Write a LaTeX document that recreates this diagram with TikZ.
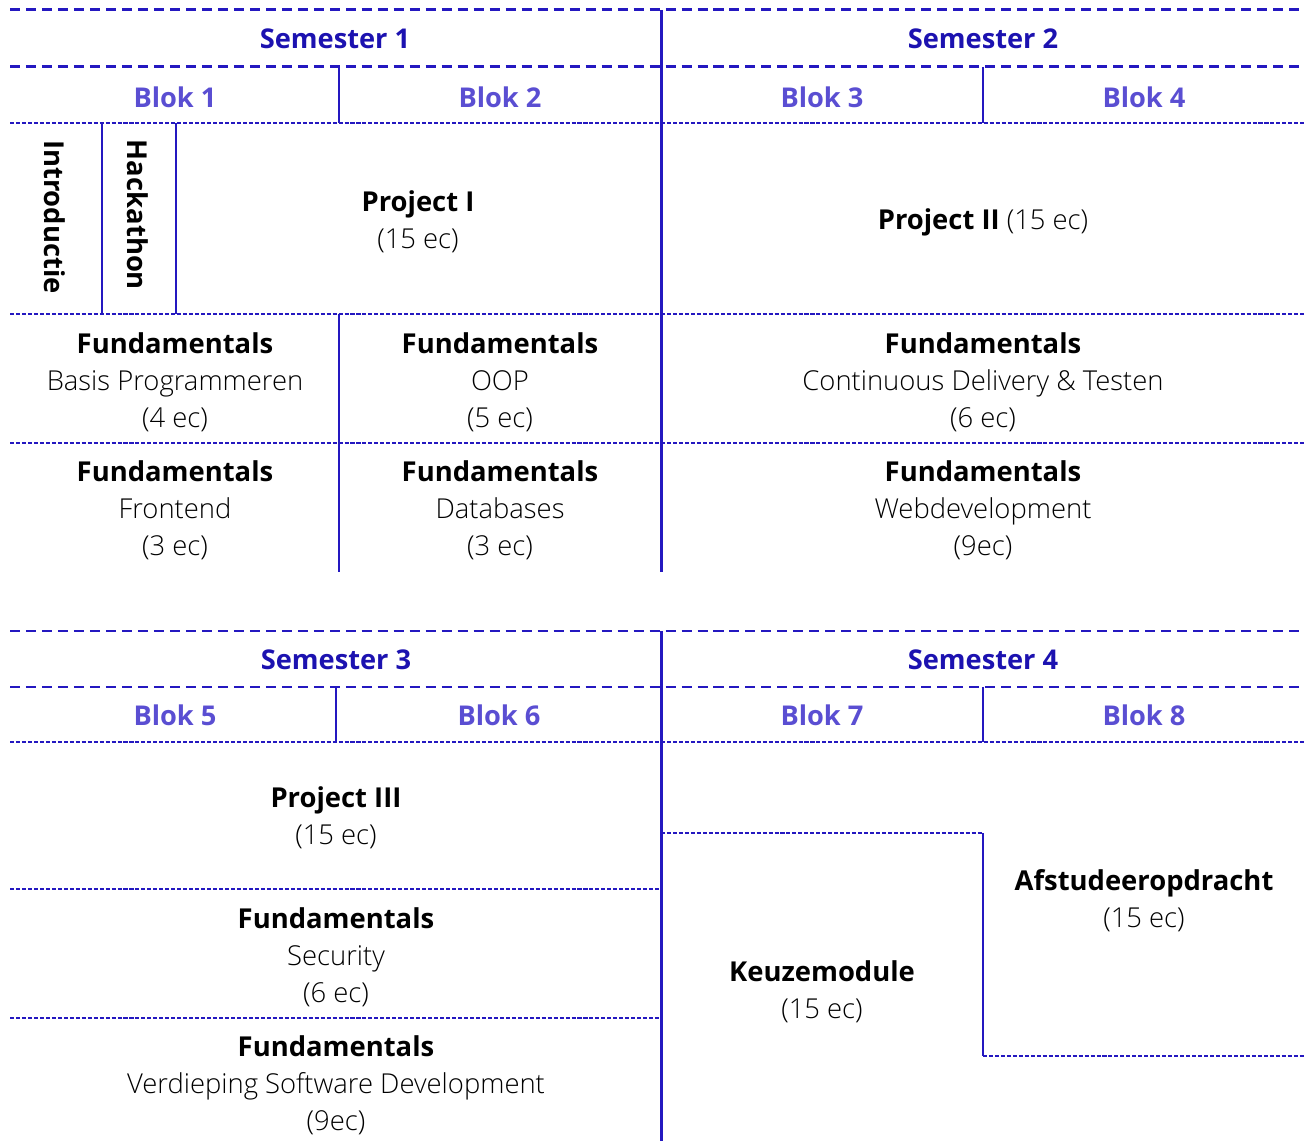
\documentclass[tikz,border=0pt]{standalone}
\usepackage{fontspec}
\setmainfont{Open Sans}
\newfontfamily\lightfont{Open Sans Light}
\definecolor{semblue}{HTML}{1C12B0}
\definecolor{blokblue}{HTML}{5A4ED2}
\definecolor{lineblue}{HTML}{2418C0}
\newcommand{\vaknaam}[1]{{\normalfont\bfseries #1}}
\tikzstyle{semester} = [
  font=\fontsize{15.5}{21}\selectfont\bfseries,
  text=semblue
]
\tikzstyle{blok} = [
  font=\fontsize{15.5}{21}\selectfont\bfseries,
  text=blokblue
]
\tikzstyle{vak} = [
  align=center,
  font=\fontsize{15.6}{21}\selectfont\lightfont
]
\tikzstyle{thickdash} = [draw=lineblue, line width=1.7pt, dash pattern=on 5.7pt off 3.4pt]
\tikzstyle{thindash} = [draw=lineblue, line width=0.85pt, dash pattern=on 2.3pt off 1.1pt]
\tikzstyle{mainline} = [draw=lineblue, line width=1.7pt]
\tikzstyle{subline} = [draw=lineblue, line width=1.1pt]

\begin{document}
\begin{tikzpicture}[x=0.02cm, y=-0.02cm]
    \useasboundingbox (0,0) rectangle (1312,1141);

    % Jaar 1: semesters en blokken
    \draw [thickdash] (10,10) -- (1305,10);
    \draw [thickdash] (10,67) -- (1305,67);
    \draw [thindash] (10,123) -- (1305,123);
    \draw [thindash] (10,314) -- (1305,314);
    \draw [thindash] (10,443) -- (1305,443);
    \draw [mainline] (661,10) -- (661,572);
    \draw [subline] (339,67) -- (339,123);
    \draw [subline] (983,67) -- (983,123);
    \draw [subline] (102,123) -- (102,314);
    \draw [subline] (176,123) -- (176,314);
    \draw [subline] (339,314) -- (339,572);

    \node (sem1) [semester] at (335,39) {Semester 1};
    \node (sem2) [semester] at (983,39) {Semester 2};
    \node (blok1) [blok] at (175,97) {Blok 1};
    \node (blok2) [blok] at (500,97) {Blok 2};
    \node (blok3) [blok] at (822,97) {Blok 3};
    \node (blok4) [blok] at (1144,97) {Blok 4};

    % Jaar 1: onderdelen
    \node (intro) [vak, rotate=-90] at (55,217) {\vaknaam{Introductie}};
    \node (hack) [vak, rotate=-90] at (138,215) {\vaknaam{Hackathon}};
    \node (proj1) [vak] at (418,222) {\vaknaam{Project I}\\(15 ec)};
    \node (proj2) [vak] at (983,222) {\vaknaam{Project II} (15 ec)};
    \node (basis) [vak] at (175,382) {\vaknaam{Fundamentals}\\Basis Programmeren\\(4 ec)};
    \node (oop) [vak] at (500,382) {\vaknaam{Fundamentals}\\OOP\\(5 ec)};
    \node (cdt) [vak] at (983,382) {\vaknaam{Fundamentals}\\Continuous Delivery \& Testen\\(6 ec)};
    \node (front) [vak] at (175,510) {\vaknaam{Fundamentals}\\Frontend\\(3 ec)};
    \node (db) [vak] at (500,510) {\vaknaam{Fundamentals}\\Databases\\(3 ec)};
    \node (webdev) [vak] at (983,510) {\vaknaam{Fundamentals}\\Webdevelopment\\(9ec)};

    % Jaar 2: semesters en blokken
    \draw [thickdash] (10,631) -- (1305,631);
    \draw [thickdash] (10,687) -- (1305,687);
    \draw [thindash] (10,742) -- (1305,742);
    \draw [thindash] (10,889) -- (661,889);
    \draw [thindash] (10,1018) -- (661,1018);
    \draw [thindash] (661,833) -- (983,833);
    \draw [thindash] (983,1056) -- (1305,1056);
    \draw [mainline] (661,631) -- (661,1141);
    \draw [subline] (336,687) -- (336,742);
    \draw [subline] (983,687) -- (983,742);
    \draw [subline] (983,833) -- (983,1056);

    \node (sem3) [semester] at (336,660) {Semester 3};
    \node (sem4) [semester] at (983,660) {Semester 4};
    \node (blok5) [blok] at (175,715) {Blok 5};
    \node (blok6) [blok] at (499,715) {Blok 6};
    \node (blok7) [blok] at (822,715) {Blok 7};
    \node (blok8) [blok] at (1144,715) {Blok 8};

    % Jaar 2: onderdelen
    \node (proj3) [vak] at (336,818) {\vaknaam{Project III}\\(15 ec)};
    \node (secur) [vak] at (336,957) {\vaknaam{Fundamentals}\\Security\\(6 ec)};
    \node (verdiep) [vak] at (336,1085) {\vaknaam{Fundamentals}\\Verdieping Software Development\\(9ec)};
    \node (keuze) [vak] at (822,992) {\vaknaam{Keuzemodule}\\(15 ec)};
    \node (afstud) [vak] at (1144,901) {\vaknaam{Afstudeeropdracht}\\(15 ec)};

\end{tikzpicture}
\end{document}
